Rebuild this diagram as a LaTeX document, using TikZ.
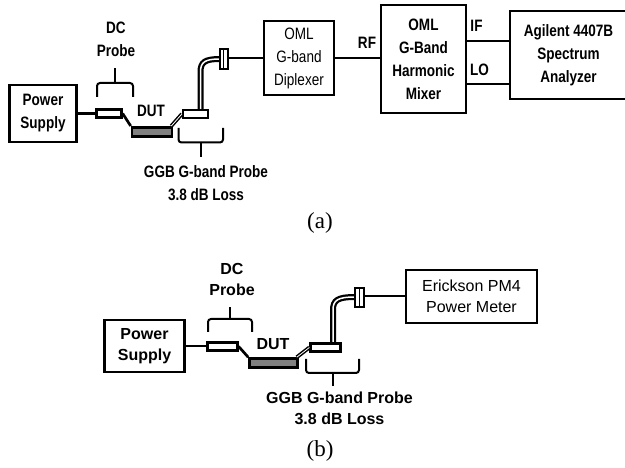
\documentclass[tikz,border=0pt]{standalone}
\usepackage{fontspec}
\setmainfont{Liberation Sans}
\newfontfamily\capfont{Liberation Serif}
\newfontfamily\nfont[FakeStretch=0.82]{Liberation Sans}
\usetikzlibrary{calc}
\tikzset{
  x=1pt,y=-1pt,
  txta/.style={font=\nfont\bfseries\fontsize{16.5}{23}\selectfont},
  txtb/.style={font=\bfseries\fontsize{16}{21}\selectfont},
  boxa/.style={draw=black,line width=2.7pt,fill=white,inner sep=0pt,align=center,txta},
  boxb/.style={draw=black,line width=2.5pt,fill=white,inner sep=0pt,align=center,txtb},
  lbla/.style={inner sep=0pt,align=center,txta},
  lblb/.style={inner sep=0pt,align=center,txtb},
  caplbl/.style={inner sep=0pt,font=\capfont\fontsize{23}{26}\selectfont},
  wire/.style={draw=black,line width=2.7pt},
  wireb/.style={draw=black,line width=2pt},
  tip/.style={draw=black,line width=2.3pt,fill=white,inner sep=0pt},
  dut/.style={draw=black,line width=2.6pt,fill=black!50,inner sep=0pt},
  brace/.style={draw=black,line width=2pt,rounded corners=3pt},
  coaxo/.style={draw=black,line width=6pt},
  coaxi/.style={draw=white,line width=1.5pt},
  conn/.style={draw=black,line width=2pt,fill=white,inner sep=0pt}
}
\begin{document}
\begin{tikzpicture}
\useasboundingbox (0,0) rectangle (625,468);
% (a)
\node[boxa,minimum width=67pt,minimum height=57pt] (psa) at (43,113.5) {Power\\Supply};
\node[tip,minimum width=25pt,minimum height=8pt] (dca) at (109,113.5) {};
\node[dut,minimum width=40pt,minimum height=9pt] (duta) at (152,131.8) {};
\node[tip,minimum width=25pt,minimum height=8pt] (gga) at (195.5,114) {};
\draw[wire] (psa.east |- dca.west) -- (dca.west);
\draw[wire] (dca.east) -- (duta.north west);
\draw[wire,line width=3.8pt] (gga.west) -- ($(duta.north east)+(-2,0)$);
\draw[white,line width=.8pt] (gga.west) -- ($(duta.north east)+(-2,0)$);
\draw[coaxo] (200.5,110) -- (200.5,72) .. controls (200.5,62) and (205,59) .. (220,59);
\draw[coaxi] (200.5,109) -- (200.5,72) .. controls (200.5,62) and (205,59) .. (220,59);
\node[conn,minimum width=8pt,minimum height=20pt] (cona) at (223.5,59.5) {};
\draw[black,line width=1.2pt] (cona.north) -- (cona.south);
\node[boxa,font=\nfont\fontsize{16.5}{23}\selectfont,minimum width=70pt,minimum height=74pt] (dip) at (299,58) {OML\\G-band\\Diplexer};
\node[boxa,minimum width=85pt,minimum height=108pt] (mix) at (423.5,59) {OML\\G-Band\\Harmonic\\Mixer};
\node[boxa,minimum width=117pt,minimum height=88pt] (sa) at (568.5,55) {Agilent 4407B\\Spectrum\\Analyzer};
\draw[wire] (cona.east |- dip.west) -- (dip.west);
\draw[wire] (dip.east) -- (mix.west |- dip.east);
\coordinate (ifa) at (466,41); \coordinate (loa) at (466,84);
\draw[wire] (ifa) -- (ifa -| sa.west);
\draw[wire] (loa) -- (loa -| sa.west);
\node[lbla] (rfl) at (367,43) {RF};
\node[lbla] (ifl) at (476.5,26) {IF};
\node[lbla] (lol) at (479.5,70) {LO};
\node[lbla] (dcl) at (116,39.5) {DC\\Probe};
\node[lbla] (dl) at (151,111) {DUT};
\node[lbla] (ggl) at (206,183) {GGB G-band Probe\\3.8 dB Loss};
\draw[brace] (97,97) -- (97,83) -- (133,83) -- (133,97);
\draw[brace] (115,83) -- (115,68);
\draw[brace] (178.5,128) -- (178.5,142.5) -- (223,142.5) -- (223,128);
\draw[brace] (200.5,142.5) -- (200.5,157);
\node[caplbl] (capa) at (320,223) {(a)};
% (b)
\node[boxb,minimum width=80pt,minimum height=52pt] (psb) at (144.5,346) {Power\\Supply};
\node[tip,minimum width=30pt,minimum height=8pt] (dcb) at (222.5,346.5) {};
\node[dut,minimum width=48pt,minimum height=9pt] (dutb) at (273.5,363) {};
\node[tip,minimum width=30pt,minimum height=8pt] (ggb) at (325.5,347.5) {};
\draw[wireb] (psb.east |- dcb.west) -- (dcb.west);
\draw[wire] (dcb.east) -- (dutb.north west);
\draw[wire,line width=3.8pt] (ggb.west) -- ($(dutb.north east)+(-2,0)$);
\draw[white,line width=.8pt] (ggb.west) -- ($(dutb.north east)+(-2,0)$);
\draw[coaxo] (333,343) -- (333,310) .. controls (333,300) and (338,297) .. (355,297);
\draw[coaxi] (333,342) -- (333,310) .. controls (333,300) and (338,297) .. (355,297);
\node[conn,minimum width=9.5pt,minimum height=19pt] (conb) at (359.5,298) {};
\draw[black,line width=1.2pt] (conb.north) -- (conb.south);
\node[boxb,font=\fontsize{16}{21}\selectfont,minimum width=131pt,minimum height=53pt] (pm) at (471.5,296.5) {Erickson PM4\\Power Meter};
\draw[wireb] (conb.east |- pm.west) -- (pm.west);
\node[lblb] (dcl2) at (232,279.5) {DC\\Probe};
\node[lblb] (dl2) at (273,344) {DUT};
\node[lblb] (ggl2) at (339.5,408.5) {GGB G-band Probe\\3.8 dB Loss};
\draw[brace] (208,332) -- (208,319) -- (252,319) -- (252,332);
\draw[brace] (230,319) -- (230,307);
\draw[brace] (306,359) -- (306,373) -- (359,373) -- (359,359);
\draw[brace] (333,373) -- (333,386);
\node[caplbl] (capb) at (320,451) {(b)};
\end{tikzpicture}
\end{document}
